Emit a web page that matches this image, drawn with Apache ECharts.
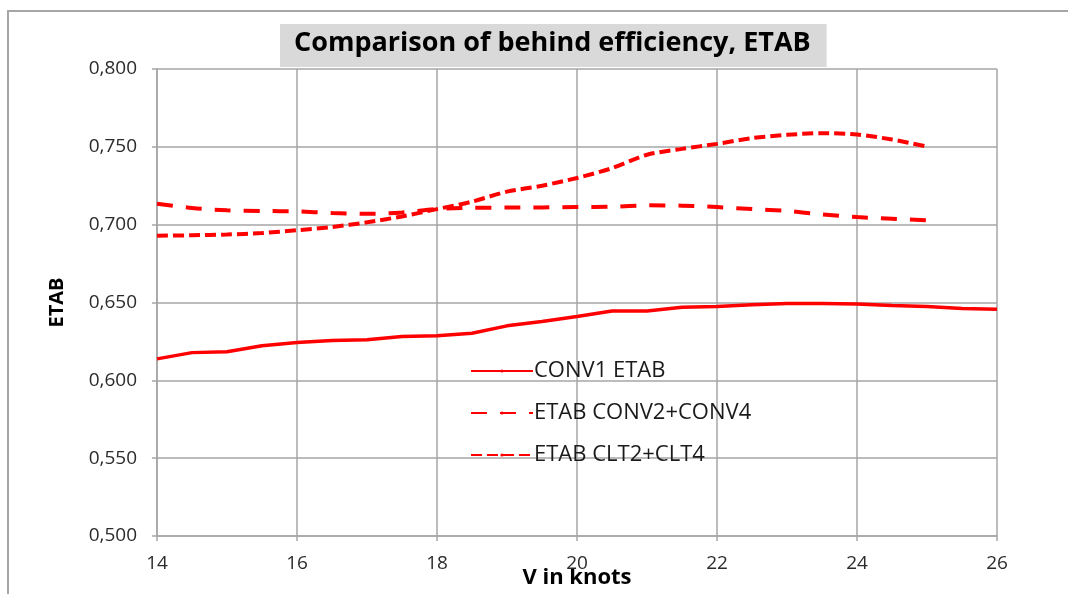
<!DOCTYPE html>
<html>
<head>
<meta charset="utf-8">
<script src="https://cdn.jsdelivr.net/npm/echarts@6/dist/echarts.min.js"></script>
<style>
  html, body { margin: 0; padding: 0; background: #fff; }
  #chart { width: 1068px; height: 594px; }
</style>
</head>
<body>
<div id="chart"></div>
<script>
  // speeds (knots)
  var speedsConv1 = [14, 14.5, 15, 15.5, 16, 16.5, 17, 17.5, 18, 18.5, 19, 19.5, 20,
    20.5, 21, 21.5, 22, 22.5, 23, 23.5, 24, 24.5, 25, 25.5, 26];
  var speedsTwin = [14, 14.5, 15, 15.5, 16, 16.5, 17, 17.5, 18, 18.5, 19, 19.5, 20,
    20.5, 21, 21.5, 22, 22.5, 23, 23.5, 24, 24.5, 25];

  var conv1Etab = [0.6138, 0.6178, 0.6183, 0.6222, 0.6243, 0.6256, 0.626, 0.6281, 0.6286,
    0.6303, 0.635, 0.6378, 0.641, 0.6445, 0.6446, 0.647, 0.6474, 0.6485, 0.6493, 0.6494,
    0.649, 0.648, 0.6474, 0.6461, 0.6457];
  var conv24Etab = [0.7135, 0.7107, 0.7092, 0.7088, 0.7085, 0.7075, 0.707, 0.7078, 0.71,
    0.7108, 0.711, 0.7111, 0.7113, 0.7115, 0.7124, 0.7122, 0.7113, 0.71, 0.7088, 0.7066,
    0.7049, 0.7038, 0.7028];
  var clt24Etab = [0.6929, 0.6932, 0.6937, 0.6946, 0.6964, 0.6985, 0.7015, 0.7053, 0.71,
    0.7148, 0.7212, 0.725, 0.73, 0.7363, 0.7449, 0.7487, 0.7519, 0.7556, 0.7577, 0.7588,
    0.7579, 0.7547, 0.7502];

  var seriesNames = ["CONV1 ETAB", "ETAB CONV2+CONV4", "ETAB CLT2+CLT4"];

  function pairs(xs, ys) {
    return xs.map(function (x, i) { return [x, ys[i]]; });
  }

  var font = "Open Sans";
  var gridColor = "#a6a6a6";
  var labelColor = "#2b2b2b";

  var chart = echarts.init(document.getElementById("chart"));
  var option = {
    backgroundColor: "#ffffff",
    textStyle: { fontFamily: font },
    graphic: [
      {
        type: "rect",
        shape: { x: 8, y: 11, width: 1120, height: 640 },
        style: { fill: "none", stroke: "#a6a6a6", lineWidth: 2 },
        silent: true,
      },
    ],
    title: {
      text: "Comparison of behind efficiency, ETAB",
      left: 280,
      top: 24,
      backgroundColor: "#d9d9d9",
      padding: [6, 16, 10, 14],
      textStyle: {
        fontFamily: font,
        fontSize: 27,
        fontWeight: "bold",
        color: "#000",
      },
    },
    legend: {
      orient: "vertical",
      left: 465,
      top: 355,
      itemWidth: 62,
      itemHeight: 4,
      itemGap: 20,
      data: seriesNames,
      textStyle: {
        fontFamily: font,
        fontSize: 22,
        color: "#1a1a1a",
        padding: [0, 0, 0, -4],
      },
    },
    grid: {
      left: 157,
      right: 71,
      top: 69,
      bottom: 58,
      outerBoundsMode: "none",
    },
    xAxis: {
      type: "value",
      min: 14,
      max: 26,
      interval: 2,
      name: "V in knots",
      nameLocation: "middle",
      nameGap: 31,
      nameMoveOverlap: false,
      nameTextStyle: { fontFamily: font, fontSize: 22, fontWeight: "bold", color: "#000" },
      axisLine: { lineStyle: { color: gridColor, width: 1.5 } },
      axisTick: { show: true, length: 5, lineStyle: { color: gridColor, width: 1.5 } },
      axisLabel: { color: labelColor, fontSize: 19, margin: 18 },
      splitLine: { show: true, lineStyle: { color: gridColor, width: 1.5 } },
    },
    yAxis: {
      type: "value",
      min: 0.5,
      max: 0.8,
      interval: 0.05,
      name: "ETAB",
      nameLocation: "middle",
      nameGap: 90,
      nameMoveOverlap: false,
      nameTextStyle: { fontFamily: font, fontSize: 20, fontWeight: "bold", color: "#000" },
      axisLine: { show: true, lineStyle: { color: gridColor, width: 1.5 } },
      axisTick: { show: true, length: 5, lineStyle: { color: gridColor, width: 1.5 } },
      axisLabel: {
        color: labelColor,
        fontSize: 19,
        margin: 20,
        formatter: function (v) {
          return v.toFixed(3).replace(".", ",");
        },
      },
      splitLine: { show: true, lineStyle: { color: gridColor, width: 1.5 } },
    },
    series: [
      {
        name: seriesNames[0],
        type: "line",
        symbol: "none",
        data: pairs(speedsConv1, conv1Etab),
        lineStyle: { color: "#ff0000", width: 3.5 },
        itemStyle: { color: "#ff0000" },
      },
      {
        name: seriesNames[1],
        type: "line",
        symbol: "none",
        smooth: 0.3,
        data: pairs(speedsTwin, conv24Etab),
        lineStyle: { color: "#ff0000", width: 4, type: [16, 13] },
        itemStyle: { color: "#ff0000" },
      },
      {
        name: seriesNames[2],
        type: "line",
        symbol: "none",
        smooth: 0.3,
        data: pairs(speedsTwin, clt24Etab),
        lineStyle: { color: "#ff0000", width: 4, type: [11, 5] },
        itemStyle: { color: "#ff0000" },
      },
    ],
  };
  chart.setOption(option);
</script>
</body>
</html>
